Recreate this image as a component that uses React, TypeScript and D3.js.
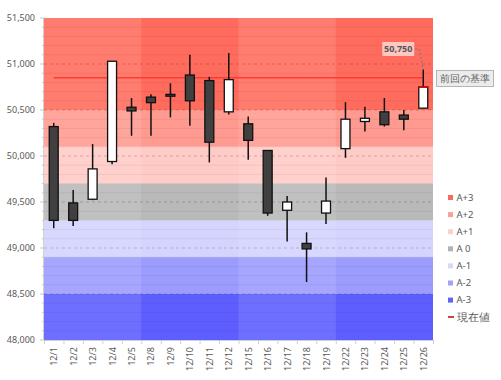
import React from 'react';
import * as d3 from 'd3';

const categories = ['12/1','12/2','12/3','12/4','12/5','12/8','12/9','12/10','12/11','12/12','12/15','12/16','12/17','12/18','12/19','12/22','12/23','12/24','12/25','12/26'];
const opens  = [50320,49490,49530,49940,50530,50640,50670,50880,50820,50480,50350,50060,49410,49050,49380,50080,50375,50480,50445,50520];
const highs  = [50360,49630,50130,51030,50630,50670,50790,51100,50860,51120,50430,50060,49565,49170,49765,50585,50535,50630,50500,50940];
const lows   = [49215,49240,49520,49910,50220,50220,50420,50330,49930,50450,49960,49350,49070,48630,49260,49980,50265,50320,50280,50520];
const closes = [49300,49300,49860,51030,50490,50580,50650,50600,50150,50830,50170,49380,49500,48990,49510,50400,50410,50340,50400,50750];

const bandNames = ['A+3','A+2','A+1','A 0','A-1','A-2','A-3'];
const bandTops =  [51500,50500,50100,49700,49300,48900,48500];
const bandBottoms=[50500,50100,49700,49300,48900,48500,48000];
const bandColors = ['#ff6c5e','#ff9a90','#ffcbc6','#b9b9b9','#d4d4ff','#9c9cff','#5e5eff'];
const legendColors = ['#f86a5e','#f9a199','#f9d2cf','#b3b3b3','#d8d8fa','#a2a2fa','#6262f5'];

const yTicks = [48000,48500,49000,49500,50000,50500,51000,51500];
const referenceValue = 50850;
const currentValue = 50750;
const referenceLabel = '前回の基準';
const currentLabel = '現在値';

const W = 501, H = 380;
const M = { left: 44, right: 433, top: 18, bottom: 340 };

export default function App() {
  const x = d3.scaleBand<string>().domain(categories).range([M.left, M.right]).paddingInner(0).paddingOuter(0);
  const y = d3.scaleLinear().domain([48000, 51500]).range([M.bottom, M.top]);
  const bw = x.bandwidth();
  const cx = (c: string) => (x(c) as number) + bw / 2;
  const minor = d3.range(48000, 51501, 100);
  const font = '"Noto Sans", "DejaVu Sans", sans-serif';
  const bodyW = bw * 0.46;
  const weeks = [0, 1, 2, 3];
  const last = categories.length - 1;
  const lx = cx(categories[last]);
  const lyHigh = y(highs[last]);

  return (
    <svg width={W} height={H} style={{ position: 'absolute', left: 0, top: 0, background: '#fff' }} fontFamily={font}>
      {bandNames.map((n, i) => (
        <rect key={n} x={M.left} width={M.right - M.left} y={y(bandTops[i])} height={y(bandBottoms[i]) - y(bandTops[i])} fill={bandColors[i]} />
      ))}
      {weeks.filter(w => w % 2 === 0).map(w => (
        <rect key={w} x={x(categories[w * 5]) as number} width={bw * 5} y={M.top} height={M.bottom - M.top} fill="#fff" opacity={0.11} />
      ))}
      {minor.map(v => v % 500 === 0 ? null : (
        <line key={v} x1={M.left} x2={M.right} y1={y(v)} y2={y(v)} stroke="#000" strokeOpacity={0.06} />
      ))}
      {yTicks.slice(1, -1).map(v => (
        <line key={v} x1={M.left} x2={M.right} y1={y(v)} y2={y(v)} stroke="#000" strokeOpacity={0.18} strokeDasharray="3,3" />
      ))}
      {/* axes */}
      <line x1={M.left - 0.5} x2={M.left - 0.5} y1={M.top} y2={M.bottom} stroke="#d0d0d0" />
      <line x1={M.left} x2={M.right} y1={M.bottom + 0.5} y2={M.bottom + 0.5} stroke="#d0d0d0" />
      {minor.map(v => (
        <line key={'t' + v} x1={M.left - (v % 500 === 0 ? 4 : 2)} x2={M.left} y1={y(v)} y2={y(v)} stroke="#c8c8c8" />
      ))}
      {yTicks.map(v => (
        <text key={'l' + v} x={35} y={y(v)} dy="0.35em" textAnchor="end" fontSize={9} fill="#595959">{d3.format(',')(v)}</text>
      ))}
      {categories.map((c, i) => (
        <g key={'x' + c}>
          <line x1={(x(c) as number) + 0.5} x2={(x(c) as number) + 0.5} y1={M.bottom} y2={M.bottom + 4} stroke="#d0d0d0" />
          <text transform={`translate(${cx(c) + 3.5},${M.bottom + 7}) rotate(-90)`} textAnchor="end" fontSize={9} fill="#595959">{c}</text>
        </g>
      ))}
      <line x1={M.right + 0.5} x2={M.right + 0.5} y1={M.bottom} y2={M.bottom + 4} stroke="#d0d0d0" />
      {/* reference line */}
      <line x1={cx(categories[0])} x2={lx} y1={y(referenceValue)} y2={y(referenceValue)} stroke="#ff3b30" strokeWidth={1.5} />
      {/* candles */}
      {categories.map((c, i) => {
        const up = closes[i] >= opens[i];
        const top = y(Math.max(opens[i], closes[i]));
        const bot = y(Math.min(opens[i], closes[i]));
        return (
          <g key={'c' + c}>
            <line x1={cx(c)} x2={cx(c)} y1={y(highs[i])} y2={y(lows[i])} stroke="#111" strokeWidth={1.5} />
            <rect x={cx(c) - bodyW / 2} width={bodyW} y={top} height={Math.max(bot - top, 1.5)} fill={up ? '#fff' : '#404040'} stroke="#111" strokeWidth={1.3} />
          </g>
        );
      })}
      <line x1={lx - bodyW / 2} x2={lx + bodyW / 2} y1={y(currentValue)} y2={y(currentValue)} stroke="#e00000" strokeWidth={1.5} />
      {/* current value annotation */}
      <path d={`M${lx - 8},${y(currentValue) - 38} L${lx - 4},${y(currentValue) - 38} L${lx},${lyHigh}`} fill="none" stroke="#777" strokeDasharray="2,2" />
      <rect x={lx - 41} y={y(currentValue) - 45} width={32} height={14} fill="#fbd8d2" opacity={0.85} />
      <text x={lx - 25} y={y(currentValue) - 38} dy="0.35em" textAnchor="middle" fontSize={9} fontWeight="bold" fill="#555">{d3.format(',')(currentValue)}</text>
      {/* reference label */}
      <rect x={436.5} y={70.5} width={57} height={16} fill="#ececec" stroke="#b5b5b5" />
      <text x={465} y={78.5} dy="0.35em" textAnchor="middle" fontSize={10} fill="#666">{referenceLabel}</text>
      {/* legend */}
      {bandNames.map((n, i) => (
        <g key={'lg' + n}>
          <rect x={448} y={195 + i * 17.1} width={5} height={5} fill={legendColors[i]} />
          <text x={456.5} y={197.5 + i * 17.1} dy="0.35em" fontSize={9.5} fill="#595959">{n}</text>
        </g>
      ))}
      <line x1={448} x2={454} y1={317} y2={317} stroke="#c00000" strokeWidth={1.5} />
      <text x={456.5} y={317} dy="0.35em" fontSize={11} fill="#595959">{currentLabel}</text>
    </svg>
  );
}
